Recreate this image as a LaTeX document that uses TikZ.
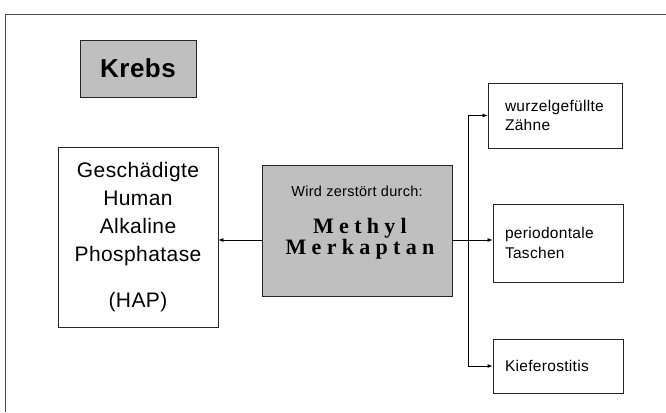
\documentclass[tikz,border=0pt]{standalone}
\usepackage{fontspec}
\setmainfont{Liberation Sans}[LetterSpace=2]
\newfontfamily\serifspaced{Liberation Serif}[LetterSpace=24]
\usetikzlibrary{calc}
\usetikzlibrary{arrows.meta}

\begin{document}
\begin{tikzpicture}[x=1pt,y=-1pt,
	box/.style={draw=black!85,line width=0.9pt,inner sep=0pt},
	greybox/.style={box,fill=black!25},
	rbox/.style={box,align=left,inner xsep=12pt,text width=106pt,minimum width=130pt,font=\fontsize{15.5}{19.5}\selectfont},
	arr/.style={-{Latex[length=5pt,width=4pt]},line width=0.7pt}]
\useasboundingbox (0,0) rectangle (666,412);
		\coordinate (split) at (468,240);
		\draw[black!70,line width=0.9pt] (5,412) -- (5,14) -- (666,14);
		% linke Seite
		\node[greybox,minimum width=116pt,minimum height=57pt,font=\fontsize{26}{28}\selectfont\bfseries] (krebs) at (138,68.5) {Krebs};
		\node[box,minimum width=160pt,minimum height=180pt,align=center,font=\fontsize{21}{28}\selectfont] (hap) at (138,237) {Geschädigte\\Human\\Alkaline\\Phosphatase\\[18pt](HAP)};
		% Mitte
		\node[greybox,minimum width=190pt,minimum height=131pt] (mm) at (357,230.5) {};
		\node[font=\fontsize{14.5}{16}\selectfont] (wird) at (357,191) {Wird zerstört durch:};
		\node[align=center,font=\fontsize{22}{20}\serifspaced\bfseries] (methyl) at (360,239) {Methyl\\Merkaptan};
		% rechte Seite
		\node[rbox,inner xsep=17pt,text width=100pt,minimum width=134pt,minimum height=65pt] (zaehne) at (555,115.5) {wurzelgefüllte\\Zähne};
		\node[rbox,minimum height=78pt] (perio) at (558,243) {periodontale\\Taschen};
		\node[rbox,minimum height=54pt] (kiefer) at (558,366) {Kieferostitis};
		\draw[arr] (mm.west |- split) -- (hap.east |- split);
		\draw[line width=0.7pt] (mm.east |- split) -- (split);
		\draw[arr] (split) -- (perio.west |- split);
		\draw[arr] (split) |- (zaehne.west);
		\draw[arr] (split) |- (kiefer.west);
\end{tikzpicture}
\end{document}
